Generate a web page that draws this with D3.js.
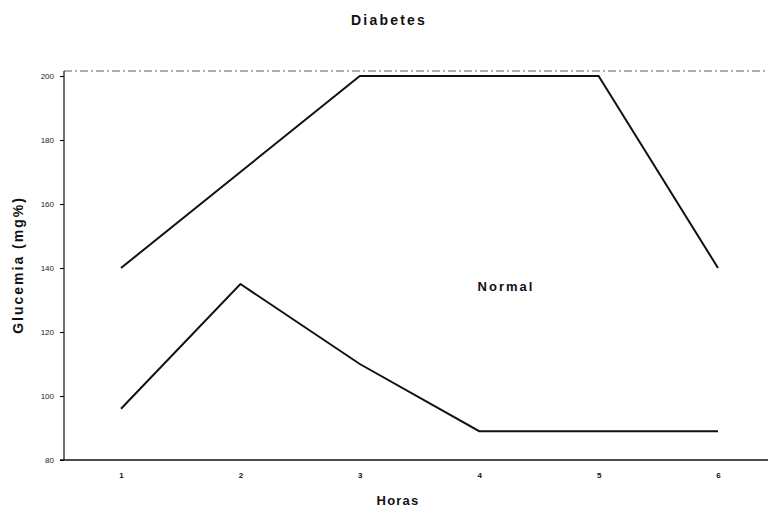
<!DOCTYPE html>
<html><head><meta charset="utf-8">
<script src="https://cdn.jsdelivr.net/npm/d3@7"></script>
<style>body{margin:0;background:#fff}svg{display:block}text{font-family:"Liberation Sans",Arial,sans-serif;fill:#111}</style>
</head><body>
<script>
const hours = [1, 2, 3, 4, 5, 6];
const diabetes = [140, 170, 200, 200, 200, 140];
const normal = [96, 135, 110, 89, 89, 89];
const yTicks = [80, 100, 120, 140, 160, 180, 200];
const title = "Diabetes";
const xTitle = "Horas";
const yTitle = "Glucemia (mg%)";
const seriesLabel = "Normal";

const W = 768, H = 509;
const svg = d3.select("body").append("svg").attr("width", W).attr("height", H);
const x = d3.scaleLinear().domain([1, 6]).range([121, 718]);
const y = d3.scaleLinear().domain([80, 200]).range([460, 76]);
const x0 = 64;

// top dotted border
svg.append("line").attr("x1", x0).attr("x2", W).attr("y1", 71).attr("y2", 71)
  .attr("stroke", "#333").attr("stroke-width", 0.8).attr("stroke-dasharray", "8,3,2,3");

// axes
const yAxis = d3.axisLeft(y).tickValues(yTicks).tickSize(4).tickPadding(6);
const gy = svg.append("g").attr("transform", `translate(${x0},0)`).call(yAxis);
gy.select(".domain").attr("d", `M0,${y(80)}V71`).attr("stroke", "#111").attr("stroke-width", 1.2);
gy.selectAll("text").style("font-size", "8px").style("fill", "#222");

const xAxis = d3.axisBottom(x).tickValues(hours).tickSize(0).tickPadding(12).tickFormat(d3.format("d"));
const gx = svg.append("g").attr("transform", `translate(0,${y(80)})`).call(xAxis);
gx.select(".domain").attr("d", `M${x0 - 4},0H${W}`).attr("stroke", "#111").attr("stroke-width", 1.5);
gx.selectAll("text").style("font-size", "8px").style("font-weight", "bold");

const line = d3.line().x((d, i) => x(hours[i])).y(d => y(d));
[diabetes, normal].forEach(s => {
  svg.append("path").datum(s).attr("d", line).attr("fill", "none")
    .attr("stroke", "#111").attr("stroke-width", 2).attr("stroke-linejoin", "miter");
});

svg.append("text").attr("x", 389).attr("y", 25).attr("text-anchor", "middle")
  .style("font-size", "14px").style("font-weight", "bold").style("letter-spacing", "2.2px").text(title);
svg.append("text").attr("x", 398).attr("y", 505).attr("text-anchor", "middle")
  .style("font-size", "13px").style("font-weight", "bold").style("letter-spacing", "1.2px").text(xTitle);
svg.append("text").attr("transform", "translate(23,265) rotate(-90)").attr("text-anchor", "middle")
  .style("font-size", "14px").style("font-weight", "bold").style("letter-spacing", "2px").text(yTitle);
svg.append("text").attr("x", 506).attr("y", 291).attr("text-anchor", "middle")
  .style("font-size", "13px").style("font-weight", "bold").style("letter-spacing", "2px").text(seriesLabel);
</script>
</body></html>
